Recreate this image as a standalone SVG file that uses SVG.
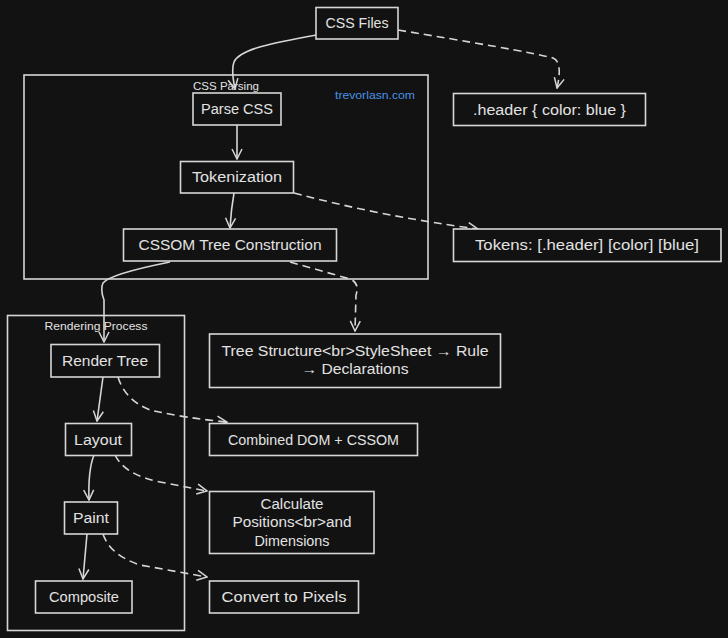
<svg xmlns="http://www.w3.org/2000/svg" width="728" height="638" viewBox="0 0 728 638">
<defs>
<style>
.bg{fill:#121212}
.node rect{fill:#121212;stroke:#d6d6d6;stroke-width:1.6}
.cluster rect{fill:none;stroke:#d6d6d6;stroke-width:1.6}
text{font-family:"Liberation Sans","DejaVu Sans",sans-serif;fill:#e2e2e2;font-size:14px;dominant-baseline:central;text-anchor:middle}
.cl{font-size:11px}
.brand{font-size:11px;fill:#4a90e2}
.edge{fill:none;stroke:#d6d6d6;stroke-width:1.6}
.dash{stroke-dasharray:8 5}
</style>
<marker id="ah" viewBox="0 0 12 12" refX="11" refY="6" markerWidth="12" markerHeight="12" markerUnits="userSpaceOnUse" orient="auto">
<path d="M1,1 L11,6 L1,11" fill="none" stroke="#d6d6d6" stroke-width="1.5"/>
</marker>
</defs>
<rect class="bg" x="0" y="0" width="728" height="638"/>

<g id="cluster-css-parsing" class="cluster">
<rect x="24" y="75" width="404" height="204"/>
<text class="cl" x="226" y="86" textLength="66" lengthAdjust="spacingAndGlyphs">CSS Parsing</text>
<text class="brand" x="375" y="95" textLength="80" lengthAdjust="spacingAndGlyphs">trevorlasn.com</text>
</g>
<g id="cluster-rendering" class="cluster">
<rect x="7.5" y="315.5" width="177" height="315"/>
<text class="cl" x="96" y="326" textLength="103" lengthAdjust="spacingAndGlyphs">Rendering Process</text>
</g>

<g id="connectors">
<path class="edge" marker-end="url(#ah)" d="M316,35 C280,42 240,48 234,62 Q231,70 235,89"/>
<path class="edge" marker-end="url(#ah)" d="M237,125 L237,159"/>
<path class="edge" marker-end="url(#ah)" d="M234,193 Q231,210 230,228"/>
<path class="edge dash" marker-end="url(#ah)" d="M398,30 C470,42 530,52 553,58 Q563,62 557,88"/>
<path class="edge dash" marker-end="url(#ah)" d="M294,193 Q380,216 478,229"/>
<path class="edge" marker-end="url(#ah)" d="M170,262 Q110,274 103,283 Q100,289 104,300 L104,342"/>
<path class="edge dash" marker-end="url(#ah)" d="M290,262 L350,279 Q360,283 356,295 L355,331"/>
<path class="edge" marker-end="url(#ah)" d="M103,377 L97,421"/>
<path class="edge dash" marker-end="url(#ah)" d="M118,377 Q125,400 150,410 Q185,418 227,422"/>
<path class="edge" marker-end="url(#ah)" d="M94,455 Q88,470 89,500"/>
<path class="edge dash" marker-end="url(#ah)" d="M115,455 Q125,475 160,482 L207,491"/>
<path class="edge" marker-end="url(#ah)" d="M87,534 L83,579"/>
<path class="edge dash" marker-end="url(#ah)" d="M103,534 Q110,555 140,565 L207,577"/>
</g>

<g id="css-files" class="node"><rect x="316" y="7.5" width="82" height="31.5"/><text x="357" y="23" textLength="63" lengthAdjust="spacingAndGlyphs">CSS Files</text></g>
<g id="parse-css" class="node"><rect x="193" y="93" width="88" height="32"/><text x="237" y="109" textLength="72" lengthAdjust="spacingAndGlyphs">Parse CSS</text></g>
<g id="tokenization" class="node"><rect x="180.5" y="161.5" width="113" height="31.5"/><text x="237" y="177" textLength="90" lengthAdjust="spacingAndGlyphs">Tokenization</text></g>
<g id="cssom" class="node"><rect x="123.5" y="229" width="213" height="32"/><text x="230" y="245" textLength="183" lengthAdjust="spacingAndGlyphs">CSSOM Tree Construction</text></g>
<g id="header-rule" class="node"><rect x="453.5" y="93.5" width="192" height="32"/><text x="549.5" y="109.5" textLength="153" lengthAdjust="spacingAndGlyphs">.header { color: blue }</text></g>
<g id="tokens" class="node"><rect x="453.5" y="229" width="267.5" height="32.5"/><text x="587" y="245" textLength="224" lengthAdjust="spacingAndGlyphs">Tokens: [.header] [color] [blue]</text></g>
<g id="tree-structure" class="node"><rect x="209.5" y="334" width="291" height="53.5"/><text x="355" y="351" textLength="267" lengthAdjust="spacingAndGlyphs">Tree Structure&lt;br&gt;StyleSheet → Rule</text><text x="355" y="369" textLength="107" lengthAdjust="spacingAndGlyphs">→ Declarations</text></g>
<g id="render-tree" class="node"><rect x="51" y="344.5" width="108.5" height="32.5"/><text x="105" y="360.5" textLength="86" lengthAdjust="spacingAndGlyphs">Render Tree</text></g>
<g id="layout" class="node"><rect x="65.5" y="423.5" width="66" height="32"/><text x="98" y="439.5" textLength="48" lengthAdjust="spacingAndGlyphs">Layout</text></g>
<g id="paint" class="node"><rect x="64.5" y="502" width="53" height="32"/><text x="91" y="518" textLength="36" lengthAdjust="spacingAndGlyphs">Paint</text></g>
<g id="composite" class="node"><rect x="35.5" y="581" width="96.5" height="32"/><text x="84" y="597" textLength="70" lengthAdjust="spacingAndGlyphs">Composite</text></g>
<g id="combined" class="node"><rect x="209.5" y="423.5" width="208" height="32"/><text x="313.5" y="439.5" textLength="171" lengthAdjust="spacingAndGlyphs">Combined DOM + CSSOM</text></g>
<g id="calculate" class="node"><rect x="209.5" y="491.5" width="164.5" height="62"/><text x="292" y="503.5" textLength="63" lengthAdjust="spacingAndGlyphs">Calculate</text><text x="292" y="522" textLength="119" lengthAdjust="spacingAndGlyphs">Positions&lt;br&gt;and</text><text x="292" y="540.5" textLength="75" lengthAdjust="spacingAndGlyphs">Dimensions</text></g>
<g id="convert" class="node"><rect x="209.5" y="581" width="149" height="32"/><text x="284" y="597" textLength="125" lengthAdjust="spacingAndGlyphs">Convert to Pixels</text></g>
</svg>
